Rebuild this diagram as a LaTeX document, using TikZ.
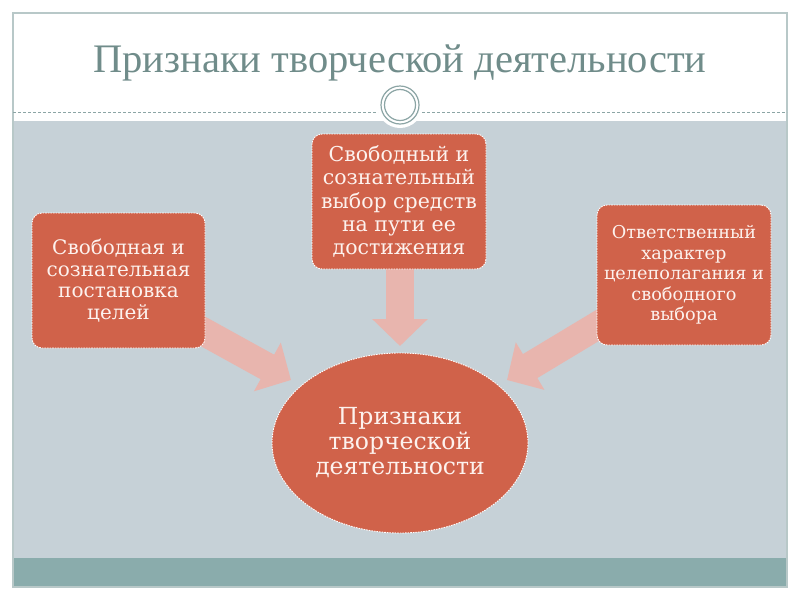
\documentclass[tikz,border=0pt]{standalone}
\usepackage{fontspec}
\setmainfont{DejaVu Serif}
\newfontfamily\titlefont{Liberation Serif}
\usetikzlibrary{arrows.meta,shapes.geometric}
\definecolor{boxfill}{RGB}{208,98,74}
\definecolor{arrowpink}{RGB}{232,181,174}
\definecolor{bggray}{RGB}{198,209,215}
\definecolor{bandteal}{RGB}{138,172,172}
\definecolor{titlecol}{RGB}{112,140,138}
\definecolor{framecol}{RGB}{184,200,200}
\definecolor{ringcol}{RGB}{140,165,165}
\definecolor{boxtext}{RGB}{253,242,238}
\begin{document}
\begin{tikzpicture}[x=1pt,y=-1pt,
 box/.style={draw=white, dash pattern=on 1.6pt off 1pt, line width=0.9pt, fill=boxfill,
   rounded corners=10pt, text=boxtext, align=center, inner sep=0pt},
 bigarrow/.style={draw=arrowpink, line width=28pt, -{Triangle[width=54pt,length=27pt]}}]
\useasboundingbox (0,0) rectangle (800,600);
\fill[white] (0,0) rectangle (800,600);
% slide background
\fill[bggray] (13,121) rectangle (787,558);
\fill[bandteal] (13,558) rectangle (787,587);
\draw[framecol, line width=1.2pt] (13,13) rectangle (787,587);
\draw[ringcol, dash pattern=on 3pt off 2pt, line width=0.6pt] (13,112) -- (378,112) (422,112) -- (787,112);
\fill[white] (400,105) circle[radius=23pt];
\draw[ringcol, line width=1.2pt] (400,105) circle[radius=19pt] (400,105) circle[radius=15.5pt];
% title
\node[text=titlecol, font=\titlefont\fontsize{40.5}{44}\selectfont] (title) at (400,63) {Признаки творческой деятельности};
% nodes (positions)
\coordinate (topc) at (399,201.5);
\coordinate (leftc) at (118.5,280.5);
\coordinate (rightc) at (684,275);
\coordinate (ellc) at (400,443);
% arrows (behind)
\coordinate (lt) at (195,327);
\coordinate (lh) at (291,380);
\coordinate (rt) at (605,321);
\coordinate (rh) at (507,380);
\coordinate (tt) at (400,262);
\coordinate (th) at (400,346);
\draw[bigarrow] (lt) -- (lh);
\draw[bigarrow] (rt) -- (rh);
\draw[bigarrow] (tt) -- (th);
% boxes
\node[box, minimum width=174pt, minimum height=135pt, font=\fontsize{20.5}{23.3}\selectfont] (top) at (topc)
 {Свободный и\\сознательный\\выбор средств\\на пути ее\\достижения};
\node[box, minimum width=173pt, minimum height=135pt, font=\fontsize{20}{21.5}\selectfont] (left) at (leftc)
 {Свободная и\\сознательная\\постановка\\целей};
\node[box, minimum width=174pt, minimum height=140pt, font=\fontsize{17.7}{20.5}\selectfont] (right) at (rightc)
 {Ответственный\\характер\\целеполагания и\\свободного\\выбора};
\node[box, ellipse, minimum width=256pt, minimum height=180pt, font=\fontsize{23.5}{25}\selectfont] (ell) at (ellc)
 {Признаки\\творческой\\деятельности};
\end{tikzpicture}
\end{document}
